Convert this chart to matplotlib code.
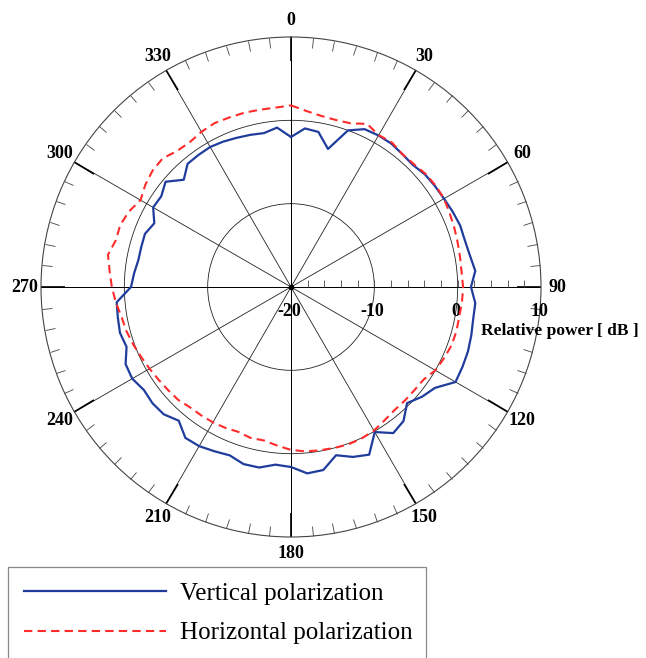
import numpy as np
import matplotlib
matplotlib.use("Agg")
import matplotlib.pyplot as plt
import matplotlib.transforms as mtrans

angles_deg = list(range(0, 360, 5))
vertical_db = [-2.0, -0.9, -1.1, -2.85, 0.0, 0.9, 1.0, 1.0, 0.8, 0.7,
               1.0, 1.1, 1.2, 1.4, 1.6, 1.6, 1.8, 2.2, 1.6, 2.2,
               2.2, 2.4, 2.6, 2.7, 2.8, 1.1, 0.5, -0.3, 1.0, 1.4,
               0.1, 2.2, 1.7, 0.9, 2.3, 2.45, 1.6, 1.4, 2.0, 2.0,
               1.5, 1.75, 2.05, 2.1, 0.95, 1.6, 1.7, 1.55, 2.0, 1.9,
               1.0, 1.25, 1.1, 1.0, -0.8, -1.1, -1.4, -1.4, -1.35, -1.9,
               -0.9, -1.0, -0.35, -1.8, -0.7, -0.65, -0.6, -0.75, -0.95, -1.1,
               -1.25, -0.8]
horizontal_db = [1.8, 1.2, 0.85, 0.75, 0.9, 1.6, 1.05, 1.15, 0.8, 0.85,
                 1.1, 1.2, 1.2, 1.0, 0.85, 0.7, 0.6, 0.55, 0.65, 0.6,
                 0.5, 0.55, 0.5, 0.25, 0.0, -0.6, -0.7, -0.7, -0.7, -0.45,
                 -0.1, 0.05, 0.1, 0.0, -0.1, -0.2, -0.45, -0.9, -1.3, -1.25,
                 -1.5, -1.35, -1.25, -1.2, -1.15, -0.85, -0.75, -0.6, -0.4, -0.15,
                 0.15, 0.45, 0.65, 1.1, 1.5, 1.85, 2.3, 1.75, 1.8, 1.45,
                 0.85, 1.35, 1.7, 1.8, 1.3, 1.2, 1.5, 1.7, 1.65, 1.65,
                 1.6, 1.6]
angle_ticks = list(range(0, 360, 30))
angle_labels = [str(a) for a in angle_ticks]
r_ticks = [-20, -10, 0, 10]
r_labels = ["-20", "-10", "0", "10"]
r_minor_ticks = list(range(-18, 10, 2))
series_names = ["Vertical polarization", "Horizontal polarization"]

serif = ["Liberation Serif", "DejaVu Serif"]

fig = plt.figure(figsize=(6.46, 6.58), dpi=100)
W, H = 646, 658
cx, cy, R = 291, 287, 250
ax = fig.add_axes([(cx - R) / W, (H - cy - R) / H, 2 * R / W, 2 * R / H],
                  projection="polar")
ax.set_theta_zero_location("N")
ax.set_theta_direction(-1)
ax.set_ylim(-20, 10)

th = np.deg2rad(angles_deg + [angles_deg[0]])
v = vertical_db + [vertical_db[0]]
h = horizontal_db + [horizontal_db[0]]
lv, = ax.plot(th, v, color="#1f3c9c", lw=1.6, label=series_names[0], zorder=5)
lh, = ax.plot(th, h, color="#ff2b2b", lw=1.5, ls=(0, (4, 2.5)),
              label=series_names[1], zorder=6)

# angular grid and ticks (outer circle only)
ax.set_xticks(np.deg2rad(angle_ticks))
ax.set_xticklabels(angle_labels, fontfamily=serif, fontweight="bold", fontsize=13)
ax.set_xticks(np.deg2rad(np.arange(0, 360, 5)), minor=True)
ax.tick_params(axis="x", which="both", top=True, bottom=False)
ax.tick_params(axis="x", which="major", direction="in", length=17, width=1.2,
               color="black", pad=5)
ax.tick_params(axis="x", which="minor", direction="in", length=7, width=0.6,
               color="#444444")
ax.xaxis.grid(True, which="major", color="#222222", lw=0.6)

# radial grid
ax.set_yticks([-10, 0])
ax.set_yticklabels([])
ax.yaxis.grid(True, color="#222222", lw=0.6)
ax.tick_params(axis="y", which="both", length=0)
ax.spines["polar"].set_color("#444444")
ax.spines["polar"].set_linewidth(0.8)

# horizontal & vertical axis lines a bit stronger
for a in (0, 90, 180, 270):
    ax.plot([np.deg2rad(a), np.deg2rad(a)], [-20, 10], color="black", lw=0.7, zorder=2)
ax.plot([0], [-20], marker="o", ms=3, color="black", zorder=7)

# small radial ticks along the 90-degree axis
ax.plot(np.full(len(r_minor_ticks), np.pi / 2), r_minor_ticks, ls="none",
        marker=2, ms=5, mew=0.6, color="#444444", zorder=3)

# radial labels below 90-deg axis
off = mtrans.offset_copy(ax.transData, fig=fig, x=-2, y=-25, units="dots")
for rv, lab in zip(r_ticks, r_labels):
    ax.text(np.pi / 2, rv, lab, transform=off, ha="center", va="center",
            fontfamily=serif, fontweight="bold", fontsize=13, clip_on=False)
fig.text(560 / W, 1 - 331 / H, "Relative power [ dB ]", ha="center", va="center",
         fontfamily=serif, fontweight="bold", fontsize=12.5)

leg = fig.legend(handles=[lv, lh], labels=series_names,
                 loc="upper left", bbox_to_anchor=(8 / W, 1 - 567 / H, 418 / W, 0),
                 mode="expand", fancybox=False, framealpha=1, edgecolor="#888888",
                 prop={"family": serif, "size": 18}, handlelength=5.7,
                 handletextpad=0.55, labelspacing=0.68, borderpad=0.62,
                 borderaxespad=0)
leg.get_frame().set_linewidth(0.9)

fig.savefig("out.png", dpi=100)
